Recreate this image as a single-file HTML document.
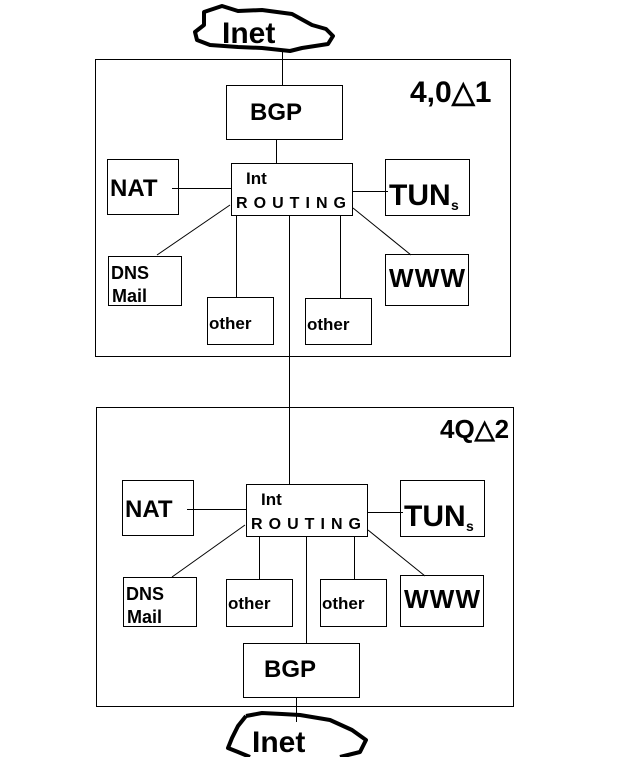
<!DOCTYPE html>
<html><head><meta charset="utf-8"><style>
html,body{margin:0;padding:0;background:#fff;}
svg{display:block}
text{font-family:"Liberation Sans",sans-serif;font-weight:bold;fill:#000;}
</style></head><body>
<svg width="622" height="757" viewBox="0 0 622 757" xmlns="http://www.w3.org/2000/svg">
<g fill="none" stroke="#000" stroke-width="1">
<!-- top -->
<rect x="95.5" y="59.5" width="415" height="297"/>
<line x1="282.5" y1="50" x2="282.5" y2="86"/>
<rect x="226.5" y="85.5" width="116" height="54"/>
<line x1="276.5" y1="139" x2="276.5" y2="163"/>
<rect x="231.5" y="163.5" width="121" height="52"/>
<rect x="107.5" y="159.5" width="71" height="55"/>
<line x1="172" y1="188.5" x2="231" y2="188.5"/>
<rect x="385.5" y="159.5" width="84" height="56"/>
<line x1="352" y1="191.5" x2="388" y2="191.5"/>
<rect x="108.5" y="256.5" width="73" height="49"/>
<line x1="230" y1="205" x2="157" y2="255"/>
<rect x="207.5" y="297.5" width="66" height="47"/>
<line x1="236.5" y1="215" x2="236.5" y2="297"/>
<rect x="305.5" y="298.5" width="66" height="46"/>
<line x1="340.5" y1="215" x2="340.5" y2="298"/>
<rect x="385.5" y="254.5" width="83" height="51"/>
<line x1="353" y1="208" x2="411" y2="255"/>
<line x1="289.5" y1="215" x2="289.5" y2="485"/>
<!-- bottom -->
<rect x="96.5" y="407.5" width="417" height="299"/>
<rect x="246.5" y="484.5" width="121" height="52"/>
<rect x="122.5" y="480.5" width="71" height="55"/>
<line x1="187" y1="509.5" x2="247" y2="509.5"/>
<rect x="400.5" y="480.5" width="84" height="56"/>
<line x1="368" y1="512.5" x2="403" y2="512.5"/>
<rect x="123.5" y="577.5" width="73" height="49"/>
<line x1="245" y1="525" x2="172" y2="577"/>
<rect x="226.5" y="579.5" width="66" height="47"/>
<line x1="259.5" y1="536" x2="259.5" y2="579"/>
<rect x="320.5" y="579.5" width="66" height="47"/>
<line x1="354.5" y1="536" x2="354.5" y2="579"/>
<rect x="400.5" y="575.5" width="83" height="51"/>
<line x1="368" y1="530" x2="425" y2="576"/>
<rect x="243.5" y="643.5" width="116" height="54"/>
<line x1="306.5" y1="536" x2="306.5" y2="643"/>
<line x1="296.5" y1="697" x2="296.5" y2="722"/>
</g>
<g fill="none" stroke="#000" stroke-width="4" stroke-linejoin="round">
<path d="M204,12 L222,6 L238,11 L262,10 L292,14 L312,25 L326,29 L333,36 L328,44 L302,48 L290,51 L262,48 L238,47 L210,45 L197,40 L195,32 L204,25 Z"/>
<path d="M246,716 L262,713 L282,714 L300,715 L330,720 L352,730 L366,740 L360,752 L340,757 M246,716 L238,726 L232,738 L228,748 L238,752 L250,757"/>
</g>
<g font-size="24">
<text x="222" y="43" font-size="30">Inet</text>
<text x="250" y="120">BGP</text>
<text x="110" y="196">NAT</text>
<text x="389" y="205" font-size="30">TUN</text><text x="451" y="210" font-size="14">s</text>
<text x="246" y="184" font-size="17">Int</text>
<text x="236" y="208" font-size="16" textLength="110">ROUTING</text>
<text x="111" y="279" font-size="18">DNS</text>
<text x="112" y="302" font-size="18">Mail</text>
<text x="209" y="329" font-size="17">other</text>
<text x="307" y="330" font-size="17">other</text>
<text x="389" y="287" font-size="26" textLength="76">WWW</text>
<text x="410" y="102" font-size="30">4,0△1</text>
<text x="440" y="438" font-size="26">4Q△2</text>
<text x="125" y="517">NAT</text>
<text x="404" y="526" font-size="30">TUN</text><text x="466" y="531" font-size="14">s</text>
<text x="261" y="505" font-size="17">Int</text>
<text x="251" y="529" font-size="16" textLength="110">ROUTING</text>
<text x="126" y="600" font-size="18">DNS</text>
<text x="127" y="623" font-size="18">Mail</text>
<text x="228" y="609" font-size="17">other</text>
<text x="322" y="609" font-size="17">other</text>
<text x="404" y="608" font-size="26" textLength="76">WWW</text>
<text x="264" y="677">BGP</text>
<text x="252" y="752" font-size="30">Inet</text>
</g>
</svg>
</body></html>
